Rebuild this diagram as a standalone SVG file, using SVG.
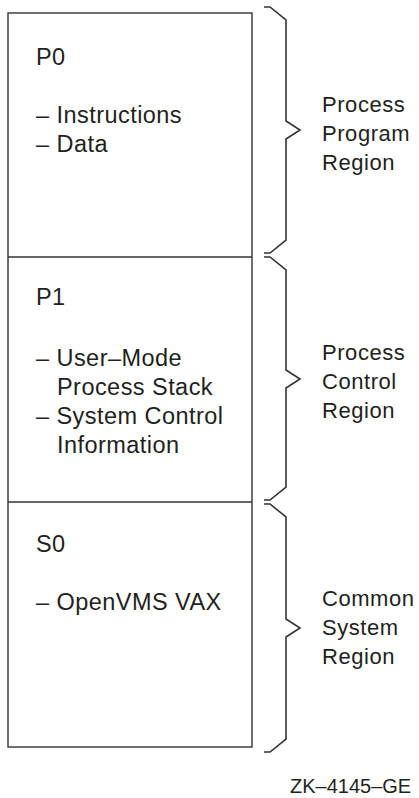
<svg xmlns="http://www.w3.org/2000/svg" width="419" height="798" viewBox="0 0 419 798">
<style>
.box{fill:#fff;stroke:#333;stroke-width:1.4}
.div{stroke:#333;stroke-width:1.4;fill:none}
.brace{fill:none;stroke:#333;stroke-width:1.6;stroke-linejoin:miter}
text{font-family:"Liberation Sans",Arial,sans-serif;fill:#231f20}
.l{font-size:23.5px;letter-spacing:0.45px}
.r{font-size:22px;letter-spacing:0.55px}
.id{font-size:20px}
</style>
<rect width="419" height="798" fill="#fff"/>
<g id="memory">
<rect class="box" x="8" y="13" width="244" height="734"/>
</g>
<g id="p0">
<text class="l" x="36" y="65">P0</text>
<text class="l" x="36" y="123">– Instructions</text>
<text class="l" x="36" y="152">– Data</text>
</g>
<g id="p1">
<line class="div" x1="8" y1="257" x2="252" y2="257"/>
<text class="l" x="36" y="305">P1</text>
<text class="l" x="36" y="366">– User–Mode</text>
<text class="l" x="57" y="395">Process Stack</text>
<text class="l" x="36" y="424">– System Control</text>
<text class="l" x="57" y="453">Information</text>
</g>
<g id="s0">
<line class="div" x1="8" y1="502" x2="252" y2="502"/>
<text class="l" x="36" y="552">S0</text>
<text class="l" x="36" y="610">– OpenVMS VAX</text>
</g>
<g id="connectors">
<path class="brace" d="M264,7 H270 L286,20 V121 L300,130 L286,139 V240 L270,253 H264"/>
<path class="brace" d="M264,257 H270 L286,270 V370 L300,379 L286,388 V487 L270,500 H264"/>
<path class="brace" d="M264,504 H270 L286,517 V619 L300,628 L286,637 V739 L270,752 H264"/>
</g>
<g id="region-program">
<text class="r" x="322" y="112">Process</text>
<text class="r" x="322" y="141">Program</text>
<text class="r" x="322" y="170">Region</text>
</g>
<g id="region-control">
<text class="r" x="322" y="360">Process</text>
<text class="r" x="322" y="389">Control</text>
<text class="r" x="322" y="418">Region</text>
</g>
<g id="region-system">
<text class="r" x="322" y="606">Common</text>
<text class="r" x="322" y="635">System</text>
<text class="r" x="322" y="664">Region</text>
</g>
<text class="id" x="290" y="793">ZK–4145–GE</text>
</svg>
